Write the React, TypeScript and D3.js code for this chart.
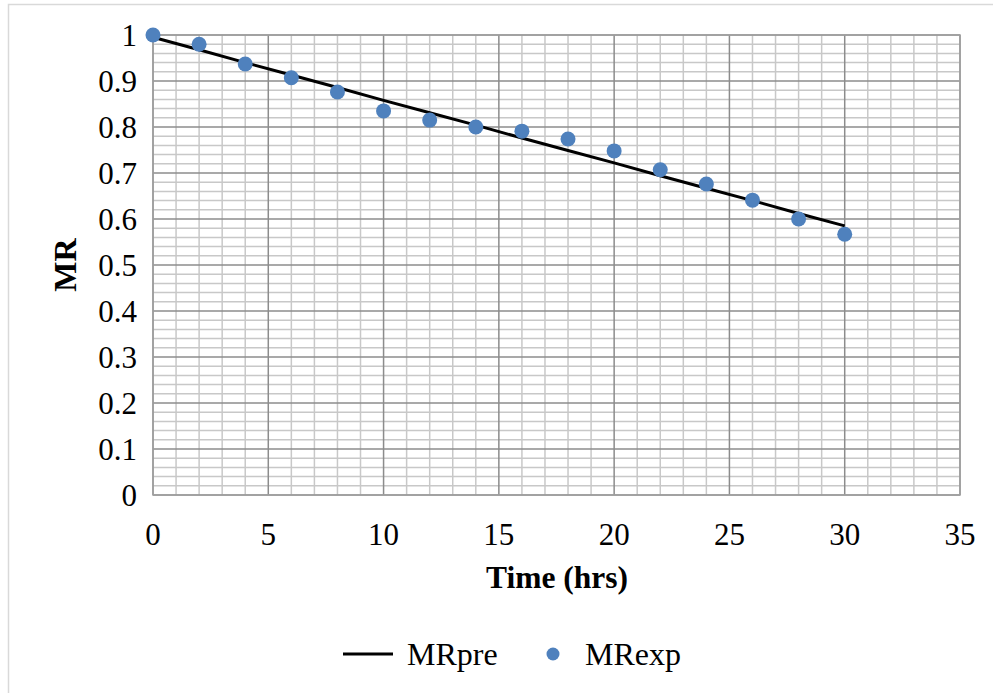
import React from "react";
import * as d3 from "d3";

// Time points (hours)
const timeHrs = [0, 2, 4, 6, 8, 10, 12, 14, 16, 18, 20, 22, 24, 26, 28, 30];
// Experimental moisture ratio
const mrExp = [1.0, 0.98, 0.937, 0.907, 0.876, 0.835, 0.815, 0.8, 0.791, 0.774, 0.748, 0.707, 0.676, 0.641, 0.6, 0.567];
// Predicted moisture ratio
const mrPre = [0.995, 0.968, 0.94, 0.913, 0.886, 0.858, 0.831, 0.804, 0.776, 0.749, 0.722, 0.694, 0.667, 0.64, 0.612, 0.585];

const xTicks = [0, 5, 10, 15, 20, 25, 30, 35];
const yTicks = [0, 0.1, 0.2, 0.3, 0.4, 0.5, 0.6, 0.7, 0.8, 0.9, 1];

const W = 993;
const H = 693;
const left = 153;
const right = 960;
const top = 35;
const bottom = 495;
const FONT = "'Liberation Serif', 'Times New Roman', serif";

export default function App() {
  const x = d3.scaleLinear().domain([0, 35]).range([left, right]);
  const y = d3.scaleLinear().domain([0, 1]).range([bottom, top]);

  const minorX = d3.range(0, 36, 1).filter((v) => v % 5 !== 0);
  const minorY = d3.range(0, 51, 1).map((v) => v / 50).filter((_, i) => i % 5 !== 0);

  const line = d3
    .line<number>()
    .x((_, i) => x(timeHrs[i]))
    .y((d) => y(d));

  return (
    <svg
      width={W}
      height={H}
      style={{ position: "absolute", left: 0, top: 0, background: "#fff" }}
    >
      <rect x={8.5} y={4.5} width={W + 10} height={H + 10} fill="#fff" stroke="#d9d9d9" strokeWidth={1.5} />

      {/* minor grid */}
      {minorX.map((v) => (
        <line key={"mx" + v} x1={x(v)} x2={x(v)} y1={top} y2={bottom} stroke="#c8c8c8" strokeWidth={1.5} />
      ))}
      {minorY.map((v) => (
        <line key={"my" + v} x1={left} x2={right} y1={y(v)} y2={y(v)} stroke="#c8c8c8" strokeWidth={1.5} />
      ))}
      {/* major grid */}
      {xTicks.map((v) => (
        <line key={"Mx" + v} x1={x(v)} x2={x(v)} y1={top} y2={bottom} stroke="#8c8c8c" strokeWidth={1.5} />
      ))}
      {yTicks.map((v) => (
        <line key={"My" + v} x1={left} x2={right} y1={y(v)} y2={y(v)} stroke="#8c8c8c" strokeWidth={1.5} />
      ))}
      <rect x={left} y={top} width={right - left} height={bottom - top} fill="none" stroke="#a0a0a0" strokeWidth={1.5} />

      {/* predicted line */}
      <path d={line(mrPre) || ""} fill="none" stroke="#000" strokeWidth={3} />

      {/* experimental points */}
      {mrExp.map((v, i) => (
        <circle key={"p" + i} cx={x(timeHrs[i])} cy={y(v)} r={7.5} fill="#4f81bd" />
      ))}

      {/* tick labels */}
      {yTicks.map((v) => (
        <text
          key={"yl" + v}
          x={137}
          y={y(v) + 10.5}
          textAnchor="end"
          fontFamily={FONT}
          fontSize={31}
          fill="#000"
        >
          {String(v)}
        </text>
      ))}
      {xTicks.map((v) => (
        <text
          key={"xl" + v}
          x={x(v)}
          y={545}
          textAnchor="middle"
          fontFamily={FONT}
          fontSize={31}
          fill="#000"
        >
          {String(v)}
        </text>
      ))}

      {/* axis titles */}
      <text x={557} y={588} textAnchor="middle" fontFamily={FONT} fontSize={31.5} fontWeight="bold">
        Time (hrs)
      </text>
      <text
        transform={`translate(76, 265) rotate(-90)`}
        textAnchor="middle"
        fontFamily={FONT}
        fontSize={32}
        fontWeight="bold"
      >
        MR
      </text>

      {/* legend */}
      <line x1={343} x2={393} y1={654} y2={654} stroke="#000" strokeWidth={3} />
      <text x={407} y={665} fontFamily={FONT} fontSize={32}>
        MRpre
      </text>
      <circle cx={553} cy={654} r={6.5} fill="#4f81bd" />
      <text x={585} y={665} fontFamily={FONT} fontSize={32}>
        MRexp
      </text>
    </svg>
  );
}
